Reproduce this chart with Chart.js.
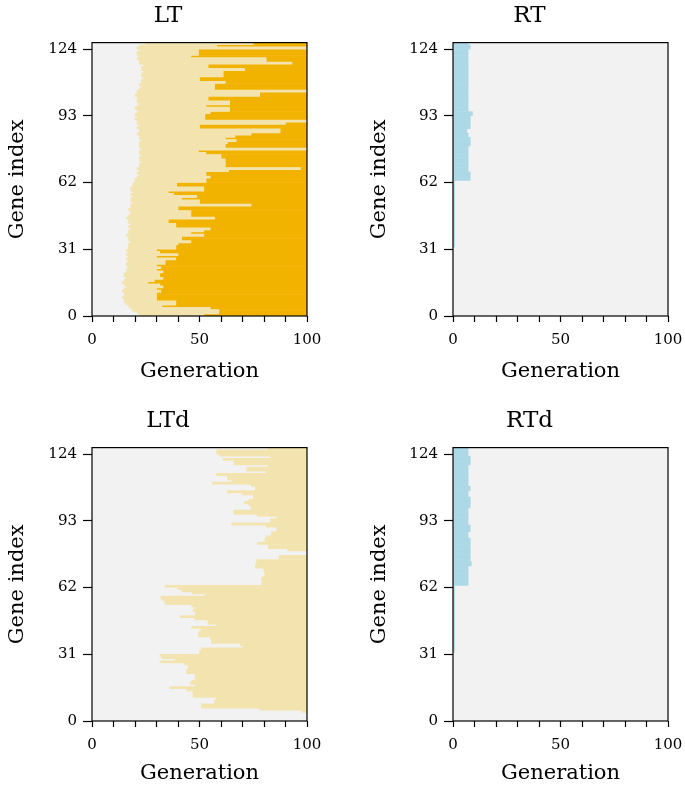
<!DOCTYPE html>
<html>
<head>
<meta charset="utf-8">
<script src="https://cdn.jsdelivr.net/npm/chart.js@4.4.0/dist/chart.umd.min.js"></script>
<style>
  html, body { margin: 0; padding: 0; background: #fff; overflow: hidden; }
  body { width: 685px; height: 788px; position: relative; }
  canvas { position: absolute; }
</style>
</head>
<body>
<canvas id="lt" width="336" height="386" style="left:0;top:0"></canvas>
<canvas id="rt" width="325" height="386" style="left:367px;top:0"></canvas>
<canvas id="ltd" width="336" height="383" style="left:0;top:405px"></canvas>
<canvas id="rtd" width="325" height="383" style="left:367px;top:405px"></canvas>
<script>
// gene rows 0..126, values are generations
const geneCount = 127;
const yTicks = [0, 31, 62, 93, 124];
const xTicksLabelled = [0, 50, 100];

// LT: generation where the light state starts (gray before it)
const ltLight = [
  22, 21, 19, 18, 17, 16, 15, 15, 14, 15,
  15, 14, 15, 16, 15, 14, 15, 16, 15, 15,
  16, 16, 17, 16, 16, 17, 16, 17, 16, 17,
  16, 17, 17, 17, 18, 17, 17, 16, 17, 17,
  18, 17, 18, 17, 17, 16, 17, 18, 18, 17,
  18, 18, 19, 18, 18, 19, 18, 19, 18, 18,
  19, 19, 20, 20, 21, 22, 21, 22, 21, 22,
  22, 23, 22, 22, 23, 22, 22, 23, 22, 22,
  22, 23, 22, 22, 21, 22, 22, 21, 22, 21,
  21, 20, 21, 20, 21, 21, 20, 21, 22, 21,
  21, 21, 20, 21, 21, 22, 23, 22, 23, 23,
  24, 23, 23, 24, 23, 23, 24, 22, 22, 21,
  22, 21, 21, 22, 21, 22, 25
];
// LT: generation where the dark state starts (100 = never)
const ltDark = [
  52, 59, 59, 55, 32.5, 39, 39, 30, 30, 30,
  30, 32, 30, 33, 31.5, 26, 29, 33, 31.5, 31.5,
  33, 30, 32, 30, 34, 34, 39, 30, 40, 31.5,
  30, 39, 39, 40, 46, 41.7, 41.7, 52, 46, 52,
  55, 39, 39, 35.5, 35.5, 57, 46, 46, 46, 40,
  40, 74, 50, 50, 41.7, 48.7, 38, 35.5, 52, 52,
  39.4, 39.4, 53, 53, 55, 53, 53, 63.5, 97, 62,
  62, 62, 62, 60, 60, 53, 49.5, 100, 62, 62,
  63, 67, 62, 66.5, 74, 87.5, 87.5, 50, 50, 90,
  100, 52.5, 52.5, 52.5, 55, 64, 64, 53, 64, 64,
  54, 54, 78, 78, 100, 57, 57, 57, 62, 50,
  50, 61, 61, 61, 71, 54, 54, 93, 81, 81,
  46, 49.5, 49.5, 49.5, 100, 58, 75
];
// LTd: generation where the light state starts (100 = never)
const ltdLight = [
  100, 100, 100, 100, 97.5, 78, 51, 51, 57, 57,
  58, 47, 47, 47, 44, 36.3, 48, 45.6, 46.4, 48,
  48, 48, 44, 44, 44.8, 44.8, 43, 31.6, 38.6, 32.4,
  31.6, 50, 50, 51, 70, 69, 55.6, 55.6, 55, 49.5,
  49.5, 50, 51, 46.4, 58, 54, 54, 48, 41, 48,
  48, 47, 48, 46.4, 34, 33.8, 32.6, 32, 52.6, 46.7,
  41.7, 40, 34, 79, 79, 79, 79, 80.5, 80.5, 80,
  80, 76, 76, 76.6, 76.6, 87, 87, 100, 100, 91,
  82, 82, 77, 80.5, 80.5, 81, 83.5, 83.5, 86, 86,
  81, 65, 83, 83, 86, 77, 66, 66, 74, 74,
  73, 71, 73, 75, 75, 70, 63, 76, 76, 74,
  56, 65, 63, 63, 58, 81, 72, 72, 82, 66,
  66, 61, 83, 59.5, 58, 58, 82
];
// RT / RTd: generation where the blue state ends (0 = none)
const rtBlue = [
  0, 0, 0, 0, 0, 0, 0, 0, 0, 0,
  0, 0, 0, 0, 0, 0, 0, 0, 0, 0,
  0, 0, 0, 0, 0, 0, 0, 0, 0, 0,
  0, 0, 0.7, 0.7, 0.7, 0.7, 0.7, 0.7, 0.7, 0.7,
  0.7, 0.7, 0.7, 0.7, 0.7, 0.7, 0.7, 0.7, 0.7, 0.7,
  0.7, 0.7, 0.7, 0.7, 0.7, 0.7, 0.7, 0.7, 0.7, 0.7,
  0.7, 0.7, 0.7, 8, 8, 8, 8, 7, 7, 7,
  7, 7, 7, 7, 7, 7, 7, 7, 7, 8,
  8, 8, 8, 7, 7, 6.4, 6.4, 8, 8, 8,
  8, 8, 8, 9, 9, 7, 7, 7, 7, 7,
  7, 7, 7, 7, 7, 7, 7, 7, 7, 7,
  7, 7, 7, 7, 7, 7, 7, 7, 7, 7,
  7, 7, 7, 7, 8, 8, 7
];
const rtdBlue = [
  0, 0, 0, 0, 0, 0, 0, 0, 0, 0,
  0, 0, 0, 0, 0, 0, 0, 0, 0, 0,
  0, 0, 0, 0, 0, 0, 0, 0, 0, 0,
  0, 0, 0.7, 0.7, 0.7, 0.7, 0.7, 0.7, 0.7, 0.7,
  0.7, 0.7, 0.7, 0.7, 0.7, 0.7, 0.7, 0.7, 0.7, 0.7,
  0.7, 0.7, 0.7, 0.7, 0.7, 0.7, 0.7, 0.7, 0.7, 0.7,
  0.7, 0.7, 0.7, 7, 7, 7, 7, 7, 7, 7,
  7, 7, 8.5, 8.5, 8, 8, 8, 8, 8, 8,
  8, 8, 8, 8, 8, 7, 7, 7, 8, 8,
  8, 7, 7, 7, 7, 7, 7, 7, 7, 8,
  8, 8, 8, 8, 7, 7, 7, 8, 8, 7,
  7, 7, 7, 7, 7, 7, 7, 7, 7, 8,
  8, 8, 8, 7, 7, 7, 7
];

const GRAY = '#f2f2f2';
const LIGHT = '#f3e4af';
const DARK = '#f2b200';
const BLUE = '#add8e6';
const FONT = 'DejaVu Serif';

// segments [from, to] per gene row, skipping empty ones
function segments(starts, ends) {
  const out = [];
  for (let i = 0; i < geneCount; i++) {
    const a = typeof starts === 'number' ? starts : starts[i];
    const b = typeof ends === 'number' ? ends : ends[i];
    if (b > a) out.push({ y: i + 0.5, x: [a, b] });
  }
  return out;
}

function barSet(data, color) {
  return {
    data: data,
    backgroundColor: color,
    borderWidth: 0,
    grouped: false,
    barPercentage: 1,
    categoryPercentage: 1,
  };
}

// gray plot background and black frame
const framePlugin = {
  id: 'frame',
  beforeDraw(chart) {
    const a = chart.chartArea, ctx = chart.ctx;
    ctx.save();
    ctx.fillStyle = GRAY;
    ctx.fillRect(a.left, a.top, a.right - a.left, a.bottom - a.top);
    ctx.restore();
  },
  afterDraw(chart) {
    const a = chart.chartArea, ctx = chart.ctx;
    ctx.save();
    ctx.strokeStyle = '#000';
    ctx.lineWidth = 1.2;
    ctx.strokeRect(a.left, a.top, a.right - a.left, a.bottom - a.top);
    ctx.restore();
  }
};

function makePanel(id, title, datasets, yWidth, rightWidth, xHeight, yTitlePad) {
  return new Chart(document.getElementById(id), {
    type: 'bar',
    data: { datasets: datasets },
    plugins: [framePlugin],
    options: {
      responsive: false,
      animation: false,
      indexAxis: 'y',
      layout: { padding: 0 },
      plugins: {
        legend: { display: false },
        tooltip: { enabled: false },
        title: {
          display: true,
          text: title,
          color: '#000',
          font: { family: FONT, size: 23, weight: 'normal' },
          padding: { top: 2, bottom: 13 },
        },
      },
      scales: {
        x: {
          type: 'linear',
          min: 0,
          max: 100,
          ticks: {
            stepSize: 10,
            autoSkip: false,
            maxRotation: 0,
            color: '#000',
            padding: 9,
            font: { family: FONT, size: 15 },
            callback: v => xTicksLabelled.includes(v) ? v : '',
          },
          grid: { drawOnChartArea: false, tickLength: 6, tickColor: '#000', tickWidth: 1.2 },
          border: { display: false },
          title: {
            display: true,
            text: 'Generation',
            color: '#000',
            font: { family: FONT, size: 21 },
            padding: { top: 0, bottom: 2 },
          },
          afterFit: s => { s.height = xHeight; },
        },
        y: {
          type: 'linear',
          min: 0,
          max: geneCount,
          offset: false,
          afterBuildTicks: s => { s.ticks = yTicks.map(v => ({ value: v })); },
          ticks: {
            color: '#000',
            padding: 6,
            font: { family: FONT, size: 15 },
          },
          grid: { offset: false, drawOnChartArea: false, tickLength: 9, tickColor: '#000', tickWidth: 1.2 },
          border: { display: false },
          title: {
            display: true,
            text: 'Gene index',
            color: '#000',
            font: { family: FONT, size: 21 },
            padding: { top: yTitlePad, bottom: 0 },
          },
          afterFit: s => { s.width = yWidth; },
        },
        // empty right axis, only keeps the plot off the right edge
        yr: {
          type: 'linear',
          position: 'right',
          display: true,
          ticks: { display: false },
          grid: { display: false },
          border: { display: false },
          afterFit: s => { s.width = rightWidth; },
        },
      },
    },
  });
}

makePanel('lt', 'LT', [
  barSet(segments(ltLight, ltDark), LIGHT),
  barSet(segments(ltDark, 100), DARK),
], 92, 29, 70, 5);

makePanel('rt', 'RT', [
  barSet(segments(0, rtBlue), BLUE),
], 86, 24, 70, 0);

makePanel('ltd', 'LTd', [
  barSet(segments(ltdLight, 100), LIGHT),
], 92, 29, 67, 5);

makePanel('rtd', 'RTd', [
  barSet(segments(0, rtdBlue), BLUE),
], 86, 24, 67, 0);
</script>
</body>
</html>
